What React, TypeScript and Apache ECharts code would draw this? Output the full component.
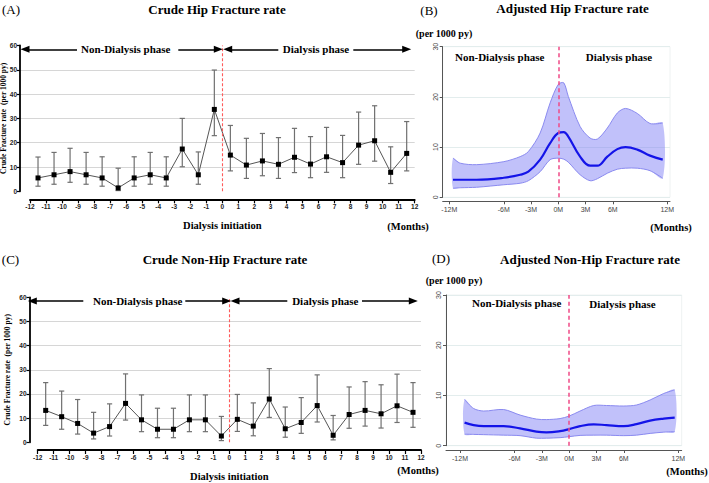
import React, { useEffect, useRef } from 'react';
import * as echarts from 'echarts';

// ---------- Crude rates (panels A and C) ----------
const crudeMonths = [-11.5, -10.5, -9.5, -8.5, -7.5, -6.5, -5.5, -4.5, -3.5, -2.5, -1.5, -0.5, 0.5, 1.5, 2.5, 3.5, 4.5, 5.5, 6.5, 7.5, 8.5, 9.5, 10.5, 11.5];
const hipRate = [5.5, 6.8, 8.1, 6.8, 5.5, 1.4, 5.5, 6.8, 5.5, 17.4, 6.8, 33.7, 14.9, 10.8, 12.5, 11.1, 14.0, 11.2, 14.2, 11.8, 19.0, 20.8, 7.8, 15.6];
const hipLow = [2.1, 2.9, 3.7, 2.9, 2.1, 0.3, 2.1, 2.9, 2.1, 10.1, 2.9, 22.9, 8.4, 5.3, 6.4, 5.3, 7.7, 5.6, 7.8, 5.6, 11.1, 12.4, 3.2, 8.4];
const hipHigh = [14.1, 16.0, 17.7, 16.0, 14.2, 9.5, 14.2, 16.0, 14.2, 30.0, 16.2, 49.9, 27.1, 21.8, 23.8, 22.1, 25.9, 22.5, 26.3, 23.0, 32.6, 35.2, 18.3, 28.7];

const nonHipRate = [13.2, 10.6, 7.8, 3.8, 6.5, 16.1, 9.3, 5.4, 5.4, 9.3, 9.3, 2.6, 9.5, 6.7, 17.9, 5.6, 8.2, 15.2, 2.9, 11.5, 13.2, 11.8, 15.1, 12.4];
const nonHipLow = [7.0, 5.4, 3.4, 1.4, 2.6, 9.2, 4.4, 1.9, 1.9, 4.4, 4.4, 0.7, 4.5, 2.7, 10.3, 2.1, 3.7, 8.4, 1.0, 5.8, 6.7, 5.9, 8.2, 6.2];
const nonHipHigh = [24.7, 21.2, 17.7, 12.4, 15.9, 28.3, 19.6, 14.1, 14.1, 19.6, 19.6, 10.7, 19.8, 16.3, 30.5, 14.6, 18.5, 27.9, 11.1, 22.9, 25.1, 23.8, 28.2, 24.7];

// ---------- Adjusted rates (panels B and D) ----------
const hipAdjMonths = [-11.6, -10.8, -9, -6, -4.2, -3.3, -2, -0.9, 0, 0.6, 1.1, 2.4, 3.5, 4.3, 5.4, 6.5, 7.4, 8.7, 10.1, 11.5];
const hipAdjRate = [3.5, 3.5, 3.5, 3.9, 4.5, 5.1, 7.5, 10.8, 12.8, 13.0, 12.1, 8.1, 6.3, 6.3, 8.1, 9.6, 10.0, 9.5, 8.3, 7.5];
const hipAdjLow = [1.8, 1.9, 2.0, 2.5, 2.8, 3.3, 5.1, 7.5, 7.8, 7.6, 7.0, 4.5, 3.3, 3.7, 4.8, 5.6, 5.8, 5.8, 5.3, 3.8];
const hipAdjHigh = [7.8, 6.8, 6.5, 7.1, 8.1, 9.1, 12.8, 18.8, 22.5, 22.8, 20.1, 14.1, 11.8, 11.6, 13.8, 16.8, 17.7, 16.7, 14.7, 14.8];

const nonHipAdjMonths = [-11.5, -10.5, -9.4, -7.2, -5.4, -3.6, -2.5, -1, 0, 1.2, 2.7, 4.1, 6, 7.4, 8.9, 10.4, 11.6];
const nonHipAdjRate = [4.6, 4.1, 3.9, 3.9, 3.45, 2.8, 2.65, 2.9, 3.3, 3.9, 4.25, 4.1, 3.9, 4.3, 5.0, 5.4, 5.6];
const nonHipAdjLow = [2.3, 2.25, 2.2, 2.1, 2.0, 1.5, 1.5, 1.6, 1.8, 2.05, 2.1, 2.1, 2.0, 2.1, 2.45, 2.7, 2.8];
const nonHipAdjHigh = [9.2, 7.4, 6.9, 7.2, 6.1, 5.3, 5.2, 5.4, 5.9, 6.9, 8.0, 8.0, 7.9, 8.1, 9.1, 10.4, 11.1];

const adjTickMonths = [-12, -6, -3, 0, 3, 6, 12];

const SERIF = '"Liberation Serif", "Times New Roman", serif';
const SANS = '"Liberation Sans", Arial, sans-serif';

function errorBarRender(params: any, api: any) {
  const x = api.value(0);
  const lo = api.value(1);
  const hi = api.value(2);
  const top = api.coord([x, hi]);
  const bot = api.coord([x, lo]);
  const cap = 2.6;
  const style = { stroke: '#707070', lineWidth: 1.2 };
  return {
    type: 'group',
    children: [
      { type: 'line', shape: { x1: top[0], y1: top[1], x2: bot[0], y2: bot[1] }, style },
      { type: 'line', shape: { x1: top[0] - cap, y1: top[1], x2: top[0] + cap, y2: top[1] }, style },
      { type: 'line', shape: { x1: bot[0] - cap, y1: bot[1], x2: bot[0] + cap, y2: bot[1] }, style },
    ],
  };
}

function bandRender(params: any, api: any) {
  if (params.dataIndexInside !== 0) return null;
  const n = params.dataInsideLength;
  const up: number[][] = [];
  const lo: number[][] = [];
  for (let i = 0; i < n; i++) {
    up.push(api.coord([api.value(0, i), api.value(2, i)]));
    lo.push(api.coord([api.value(0, i), api.value(1, i)]));
  }
  const poly = up.concat(lo.slice().reverse());
  const edge = { stroke: '#8a8af0', lineWidth: 1, fill: null };
  return {
    type: 'group',
    children: [
      { type: 'polygon', shape: { points: poly, smooth: 0.3 }, style: { fill: 'rgba(118,118,245,0.45)', stroke: null } },
      { type: 'polyline', shape: { points: up, smooth: 0.3 }, style: edge },
      { type: 'polyline', shape: { points: lo, smooth: 0.3 }, style: edge },
    ],
  };
}

function crudeXAxis(gridIndex: number, offset: number) {
  return {
    gridIndex,
    type: 'value',
    min: -12,
    max: 12,
    interval: 1,
    offset,
    axisLine: { onZero: false, lineStyle: { color: '#000', width: 1.8 } },
    axisTick: { length: 4, lineStyle: { color: '#000', width: 1.2 } },
    axisLabel: { fontSize: 6.5, fontWeight: 'bold', color: '#222', margin: 4, fontFamily: SANS },
    splitLine: { show: false },
    name: 'Dialysis initiation',
    nameLocation: 'middle',
    nameGap: 21,
    nameMoveOverlap: false,
    nameTextStyle: { fontFamily: SERIF, fontWeight: 'bold', fontSize: 10.5, color: '#000' },
  };
}

function crudeYAxis(gridIndex: number, nameGap: number) {
  return {
    gridIndex,
    type: 'value',
    min: 0,
    max: 60,
    interval: 10,
    axisLine: { show: true, onZero: false, lineStyle: { color: '#000', width: 1.8 } },
    axisTick: { show: true, length: 3, lineStyle: { color: '#000', width: 1.2 } },
    axisLabel: { fontSize: 6.5, fontWeight: 'bold', color: '#222', margin: 3, fontFamily: SANS },
    splitLine: { show: true, showMinLine: false, showMaxLine: false, lineStyle: { color: '#d6d6d6', width: 1 } },
    name: 'Crude Fracture rate  (per 1000 py)',
    nameLocation: 'middle',
    nameGap,
    nameMoveOverlap: false,
    nameTextStyle: { fontFamily: SERIF, fontWeight: 'bold', fontSize: 7.5, color: '#000' },
  };
}

function hiddenAxis(gridIndex: number, min: number, max: number) {
  return { gridIndex, type: 'value', min, max, show: false, axisLine: { onZero: false } };
}

function adjXAxis(gridIndex: number, min: number, max: number, offset: number) {
  return {
    gridIndex,
    type: 'value',
    min,
    max,
    offset,
    axisLine: { onZero: false, lineStyle: { color: '#555', width: 1 } },
    axisTick: { length: 3, customValues: adjTickMonths, lineStyle: { color: '#555' } },
    axisLabel: {
      customValues: adjTickMonths,
      formatter: (v: number) => v + 'M',
      fontSize: 7,
      color: '#444',
      margin: 5,
      fontFamily: SANS,
    },
    splitLine: { show: false },
  };
}

function adjYAxis(gridIndex: number) {
  return {
    gridIndex,
    type: 'value',
    min: 0,
    max: 30,
    interval: 10,
    axisLine: { show: true, onZero: false, lineStyle: { color: '#555', width: 1 } },
    axisTick: { show: true, length: 3, lineStyle: { color: '#555' } },
    axisLabel: { rotate: 90, fontSize: 7, color: '#444', margin: 4, fontFamily: SANS },
    splitLine: { show: true, lineStyle: { color: '#e3eded', width: 1 } },
  };
}

function arrowLines(y: number, segs: number[][]) {
  return segs.map(([from, to]) => [
    { x: from, y, symbol: 'none', lineStyle: { color: '#000', width: 1.5, type: 'solid' } },
    { x: to, y, symbol: 'triangle', symbolSize: [7, 9] },
  ]);
}

function onsetLine(yTop: number, color: string, width: number, dash: any) {
  return [
    { coord: [0, 0], symbol: 'none', lineStyle: { color, width, type: dash } },
    { coord: [0, yTop], symbol: 'none' },
  ];
}

function txt(x: number, y: number, text: string, size: number, bold = true) {
  return {
    type: 'text',
    x,
    y,
    silent: true,
    style: {
      text,
      fill: '#000',
      font: `${bold ? 'bold ' : ''}${size}px ${SERIF}`,
      textAlign: 'center',
      textVerticalAlign: 'middle',
    },
  };
}

export default function App() {
  const ref = useRef<HTMLDivElement>(null);

  useEffect(() => {
    if (!ref.current) return;
    const chart = echarts.init(ref.current, null, { renderer: 'svg' });

    const crudeLine = (xi: number, rates: number[], arrowY: number, segs: number[][]) => ({
      type: 'line',
      xAxisIndex: xi,
      yAxisIndex: xi,
      data: crudeMonths.map((m, i) => [m, rates[i]]),
      symbol: 'rect',
      symbolSize: 5,
      itemStyle: { color: '#000' },
      lineStyle: { color: '#555', width: 1 },
      z: 4,
      markLine: {
        silent: true,
        symbol: ['none', 'none'],
        label: { show: false },
        data: [onsetLine(60, '#ff5a5a', 1.1, [3, 2]), ...arrowLines(arrowY, segs)],
      },
    });

    const crudeBars = (xi: number, lows: number[], highs: number[]) => ({
      type: 'custom',
      xAxisIndex: xi,
      yAxisIndex: xi,
      data: crudeMonths.map((m, i) => [m, lows[i], highs[i]]),
      renderItem: errorBarRender,
      z: 3,
    });

    const adjBand = (xi: number, months: number[], lows: number[], highs: number[]) => ({
      type: 'custom',
      xAxisIndex: xi,
      yAxisIndex: xi,
      data: months.map((m, i) => [m, lows[i], highs[i]]),
      renderItem: bandRender,
      z: 2,
    });

    const adjLine = (xi: number, months: number[], rates: number[]) => ({
      type: 'line',
      xAxisIndex: xi,
      yAxisIndex: xi,
      data: months.map((m, i) => [m, rates[i]]),
      smooth: 0.4,
      symbol: 'none',
      itemStyle: { color: '#1414e8' },
      lineStyle: { color: '#1414e8', width: 2.2 },
      z: 4,
      markLine: {
        silent: true,
        symbol: ['none', 'none'],
        label: { show: false },
        lineStyle: { color: '#f04a86', width: 1.5, type: [4, 3] },
        data: [onsetLine(30, '#f04a86', 1.5, [4, 3])],
      },
    });

    const g = (extra: any) => ({ outerBoundsMode: 'none', containLabel: false, ...extra });

    const option: any = {
      animation: false,
      backgroundColor: '#fff',
      grid: [
        g({ left: 20, top: 45.5, width: 394.7, height: 145.8 }),
        g({ left: 30, top: 45.5, width: 384.7, height: 145.8 }),
        g({ left: 29.5, top: 297.3, width: 391.5, height: 145 }),
        g({ left: 37.7, top: 297.3, width: 383.3, height: 145 }),
        g({ left: 442.7, top: 46.7, width: 227.3, height: 150.6, show: true, borderColor: '#eef2f2', borderWidth: 1 }),
        g({ left: 446, top: 295, width: 235.7, height: 150.7, show: true, borderColor: '#eef2f2', borderWidth: 1 }),
      ],
      xAxis: [
        hiddenAxis(0, 0, 1),
        crudeXAxis(1, 8),
        hiddenAxis(2, 0, 1),
        crudeXAxis(3, 7.7),
        adjXAxis(4, -12.73, 12.3, 4),
        adjXAxis(5, -13.54, 12.37, 4.3),
      ],
      yAxis: [
        crudeYAxis(0, 13),
        hiddenAxis(1, 0, 60),
        crudeYAxis(2, 18),
        hiddenAxis(3, 0, 60),
        adjYAxis(4),
        adjYAxis(5),
      ],
      series: [
        crudeBars(1, hipLow, hipHigh),
        crudeLine(1, hipRate, 49.3, [[77, 25], [178.3, 218.3], [278.3, 227.7], [353.3, 406.7]]),
        crudeBars(3, nonHipLow, nonHipHigh),
        crudeLine(3, nonHipRate, 300.9, [[83.3, 32.3], [185.3, 226.7], [287.3, 235], [362, 413.3]]),
        adjBand(4, hipAdjMonths, hipAdjLow, hipAdjHigh),
        adjLine(4, hipAdjMonths, hipAdjRate),
        adjBand(5, nonHipAdjMonths, nonHipAdjLow, nonHipAdjHigh),
        adjLine(5, nonHipAdjMonths, nonHipAdjRate),
      ],
      graphic: [
        txt(11, 9.5, '(A)', 13, false),
        txt(217, 9.5, 'Crude Hip Fracture rate', 13),
        txt(125.7, 49.3, 'Non-Dialysis phase', 11),
        txt(316, 49.3, 'Dialysis phase', 11),
        txt(408, 226, '(Months)', 10.5),
        txt(429, 10, '(B)', 13, false),
        txt(572.5, 8.5, 'Adjusted Hip Fracture rate', 13),
        txt(444, 33, '(per 1000 py)', 10),
        txt(499.7, 56.7, 'Non-Dialysis phase', 11),
        txt(619, 57, 'Dialysis phase', 11),
        txt(671, 227.7, '(Months)', 10.5),
        txt(10.5, 259.5, '(C)', 13, false),
        txt(225, 259.5, 'Crude Non-Hip Fracture rate', 13),
        txt(137.7, 300.9, 'Non-Dialysis phase', 11),
        txt(325.3, 300.9, 'Dialysis phase', 11),
        txt(418, 470, '(Months)', 10.5),
        txt(441, 258, '(D)', 13, false),
        txt(590, 259, 'Adjusted Non-Hip Fracture rate', 13),
        txt(454, 280.7, '(per 1000 py)', 10),
        txt(516.7, 302.7, 'Non-Dialysis phase', 11),
        txt(622.5, 304, 'Dialysis phase', 11),
        txt(687, 471.7, '(Months)', 10.5),
      ],
    };

    chart.setOption(option);
    return () => chart.dispose();
  }, []);

  return (
    <div
      ref={ref}
      style={{ position: 'fixed', left: 0, top: 0, width: 709, height: 483, background: '#fff' }}
    />
  );
}
